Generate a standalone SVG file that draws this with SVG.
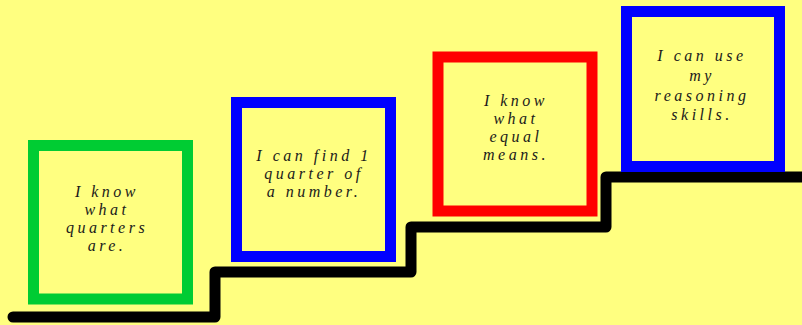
<svg xmlns="http://www.w3.org/2000/svg" width="802" height="325" viewBox="0 0 802 325">
  <style>
    .box { fill: none; stroke-width: 11; }
    .green { stroke: #00CC33; }
    .blue { stroke: #0000FF; }
    .red { stroke: #FF0000; }
    .lbl { font-family: "Liberation Serif", "DejaVu Serif", serif; font-style: italic; font-size: 16px; letter-spacing: 3.5px; fill: #1a1a1a; text-anchor: middle; }
    .stair { fill: none; stroke: #000000; stroke-width: 11; stroke-linejoin: round; stroke-linecap: round; }
  </style>
  <rect x="0" y="0" width="802" height="325" fill="#FFFF80"/>
  <g id="connectors">
    <path class="stair" d="M13,317 H215 V272 H411 V227 H606 V177 H808"/>
  </g>
  <g id="node1">
    <rect class="box green" x="33.5" y="145.5" width="154" height="153.5"/>
    <text class="lbl" x="107" y="197">I know</text>
    <text class="lbl" x="107" y="215">what</text>
    <text class="lbl" x="107" y="233">quarters</text>
    <text class="lbl" x="107" y="251">are.</text>
  </g>
  <g id="node2">
    <rect class="box blue" x="236.5" y="102.5" width="154" height="154"/>
    <text class="lbl" x="314" y="161">I can find 1</text>
    <text class="lbl" x="314" y="179">quarter of</text>
    <text class="lbl" x="314" y="197">a number.</text>
  </g>
  <g id="node3">
    <rect class="box red" x="438" y="57" width="154" height="154"/>
    <text class="lbl" x="516" y="106">I know</text>
    <text class="lbl" x="516" y="124">what</text>
    <text class="lbl" x="516" y="142">equal</text>
    <text class="lbl" x="516" y="160">means.</text>
  </g>
  <g id="node4">
    <rect class="box blue" x="626.5" y="11.5" width="153" height="155"/>
    <text class="lbl" x="702" y="61">I can use</text>
    <text class="lbl" x="702" y="81">my</text>
    <text class="lbl" x="702" y="101">reasoning</text>
    <text class="lbl" x="702" y="120">skills.</text>
  </g>
</svg>
